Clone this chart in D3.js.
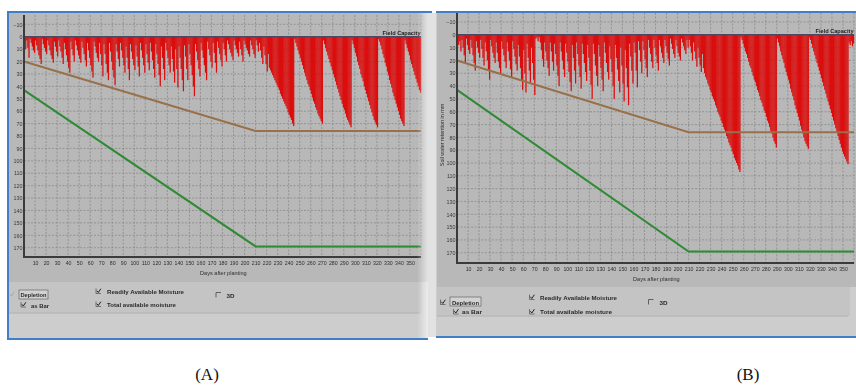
<!DOCTYPE html>
<html>
<head>
<meta charset="utf-8">
<script src="https://cdn.jsdelivr.net/npm/d3@7"></script>
<style>
  html, body { margin: 0; padding: 0; background: #fff; }
  svg { display: block; font-family: "Liberation Sans", Arial, sans-serif; }
</style>
</head>
<body>
<svg id="chart" width="856" height="387"></svg>
<script>
// daily depletion (mm below field capacity), day 1..360
const depletionA = [
  4, 10, 3, 9, 17, 2, 5, 8, 11, 13,
  3, 7, 11, 15, 18, 22, 2, 6, 9, 12,
  14, 3, 7, 11, 15, 18, 21, 4, 8, 12,
  16, 3, 8, 12, 17, 22, 5, 10, 15, 20,
  25, 29, 4, 10, 15, 20, 3, 7, 11, 15,
  18, 21, 4, 9, 14, 19, 24, 5, 11, 17,
  23, 28, 33, 4, 8, 13, 17, 20, 5, 14,
  23, 32, 6, 14, 22, 29, 35, 5, 12, 20,
  27, 33, 39, 6, 12, 18, 24, 5, 11, 17,
  23, 29, 8, 17, 26, 35, 6, 12, 18, 23,
  27, 7, 16, 24, 32, 5, 11, 17, 23, 29,
  6, 14, 21, 27, 5, 12, 19, 26, 33, 6,
  14, 22, 31, 40, 8, 17, 26, 35, 5, 11,
  17, 23, 29, 8, 18, 28, 37, 10, 26, 41,
  8, 17, 26, 35, 44, 7, 16, 26, 35, 6,
  14, 23, 31, 40, 48, 6, 12, 19, 26, 32,
  5, 11, 17, 23, 29, 35, 4, 10, 15, 20,
  25, 5, 13, 21, 29, 4, 9, 14, 19, 24,
  5, 10, 15, 20, 3, 6, 10, 13, 16, 19,
  3, 7, 10, 13, 16, 4, 10, 15, 20, 3,
  6, 9, 11, 14, 16, 3, 7, 10, 14, 17,
  3, 7, 12, 5, 11, 17, 22, 8, 15, 22,
  28, 14, 25, 27, 29, 31, 33, 35, 37, 39,
  41, 43, 46, 48, 50, 52, 54, 56, 58, 61,
  63, 65, 67, 70, 72, 2, 5, 8, 11, 14,
  17, 20, 23, 26, 29, 32, 35, 38, 40, 43,
  46, 49, 52, 54, 57, 59, 62, 64, 66, 68,
  70, 3, 6, 9, 12, 15, 18, 21, 24, 27,
  30, 33, 36, 39, 42, 45, 48, 51, 54, 57,
  59, 62, 65, 67, 69, 71, 73, 3, 6, 9,
  13, 16, 20, 23, 26, 30, 33, 36, 40, 43,
  46, 49, 52, 55, 58, 61, 64, 67, 69, 71,
  73, 2, 4, 7, 10, 14, 17, 21, 24, 28,
  31, 35, 38, 41, 45, 48, 51, 54, 57, 60,
  63, 66, 68, 70, 72, 3, 6, 9, 12, 15,
  19, 22, 25, 28, 31, 34, 37, 40, 43, 45
];
const depletionB = [
  4, 8, 5, 13, 4, 10, 16, 22, 3, 8,
  12, 15, 4, 10, 16, 22, 28, 5, 10, 14,
  18, 4, 11, 18, 24, 6, 13, 20, 28, 35,
  4, 9, 14, 18, 22, 6, 14, 21, 26, 30,
  5, 11, 16, 21, 26, 6, 13, 20, 27, 33,
  5, 11, 17, 23, 28, 8, 17, 26, 35, 43,
  12, 30, 45, 7, 18, 28, 38, 10, 22, 35,
  47, 3, 2, 5, 2, 6, 12, 19, 25, 6,
  13, 20, 26, 32, 6, 13, 21, 28, 7, 15,
  24, 32, 40, 6, 13, 20, 27, 33, 7, 14,
  21, 29, 37, 44, 8, 18, 28, 38, 6, 15,
  24, 33, 42, 7, 15, 22, 29, 36, 8, 18,
  28, 39, 50, 7, 15, 24, 32, 40, 8, 17,
  26, 35, 44, 6, 14, 22, 29, 35, 9, 19,
  29, 40, 50, 8, 18, 27, 36, 45, 10, 24,
  38, 52, 12, 26, 41, 55, 7, 17, 28, 38,
  6, 14, 28, 41, 5, 12, 21, 30, 5, 12,
  19, 26, 33, 4, 10, 15, 21, 26, 4, 10,
  16, 22, 28, 4, 9, 14, 18, 22, 4, 9,
  14, 19, 24, 3, 7, 11, 15, 18, 4, 9,
  14, 17, 20, 3, 6, 9, 12, 15, 4, 10,
  4, 9, 14, 20, 6, 13, 19, 25, 10, 18,
  24, 29, 15, 26, 30, 33, 35, 38, 40, 43,
  45, 48, 50, 52, 55, 57, 60, 62, 64, 67,
  69, 72, 74, 76, 79, 81, 84, 86, 88, 91,
  93, 96, 98, 100, 102, 105, 107, 2, 4, 7,
  10, 13, 15, 18, 21, 24, 26, 29, 32, 35,
  37, 40, 43, 45, 48, 51, 53, 56, 59, 61,
  64, 67, 69, 72, 75, 77, 80, 83, 85, 88,
  3, 6, 9, 13, 16, 19, 22, 26, 29, 32,
  35, 38, 42, 45, 48, 51, 55, 58, 61, 64,
  67, 71, 74, 77, 80, 83, 85, 87, 89, 2,
  4, 7, 10, 13, 16, 19, 22, 25, 28, 31,
  34, 37, 40, 43, 46, 49, 52, 55, 58, 61,
  64, 67, 70, 73, 76, 79, 82, 85, 88, 91,
  93, 95, 97, 99, 101, 6, 8, 5, 9, 7
];

// readily / total available moisture (mm), breakpoints by day
const stageDays = [0, 210, 360];
const ramValues = [20, 76, 76];
const tamValues = [43, 169, 169];

const yTickValues = [-10, 0, 10, 20, 30, 40, 50, 60, 70, 80, 90, 100, 110, 120, 130, 140, 150, 160, 170];
const xTickValues = [10, 20, 30, 40, 50, 60, 70, 80, 90, 100, 110, 120, 130, 140, 150, 160, 170, 180,
  190, 200, 210, 220, 230, 240, 250, 260, 270, 280, 290, 300, 310, 320, 330, 340, 350];
const xGridValues = xTickValues.concat([360]);

const svg = d3.select('#chart');
const defs = svg.append('defs');
defs.append('filter').attr('id', 'soft')
  .append('feGaussianBlur').attr('stdDeviation', 0.35);
const fade = defs.append('linearGradient').attr('id', 'fade');
fade.append('stop').attr('offset', '0%').attr('stop-color', '#fff').attr('stop-opacity', 0);
fade.append('stop').attr('offset', '100%').attr('stop-color', '#fff').attr('stop-opacity', 0.6);

const panels = [
  {
    data: depletionA,
    frame: { x0: 7, x1: 428, y0: 11, y1: 340 }, leftBorder: true,
    bg: { x0: 9, x1: 428, y0: 13, y1: 282 }, ctrlSplit: 313,
    plot: { x0: 24, x1: 421, y0: 15, y1: 257 }, yDomain: [-17.5, 177.5],
    yLabelX: 22.5, xLabelY: 265.5, days: [200, 274.5], fcY: 34.5, yTitle: null,
    shadowX: 417,
    ctl: {
      dep: { box: [10, 292], checked: false, faint: true, rect: [19, 290, 29, 9], text: [20.5, 297, 26] },
      bar: { box: [21, 302], checked: true, text: [31, 307.5, 18] },
      ram: { box: [96, 288.5], checked: true, text: [107, 293.5, 77] },
      tam: { box: [96, 301.5], checked: true, text: [107, 306.5, 69] },
      d3: { box: [216, 292.5], checked: false, text: [226.5, 297.5, 8] }
    },
    caption: [207, 380, '(A)']
  },
  {
    data: depletionB,
    frame: { x0: 436, x1: 856, y0: 11, y1: 338 }, leftBorder: false,
    bg: { x0: 437, x1: 856, y0: 13, y1: 287 }, ctrlSplit: 316,
    plot: { x0: 457, x1: 854, y0: 13, y1: 263 }, yDomain: [-17, 178],
    yLabelX: 455.5, xLabelY: 271.5, days: [633, 280.5], fcY: 32.5,
    yTitle: [443.5, 135], shadowX: null,
    ctl: {
      dep: { box: [440.5, 299.5], checked: true, rect: [450, 297, 31, 9], text: [452, 304.5, 27] },
      bar: { box: [453.5, 309], checked: true, text: [462, 314, 20] },
      ram: { box: [529.5, 294.5], checked: true, text: [540, 299.5, 77] },
      tam: { box: [529.5, 309], checked: true, text: [540, 314, 72] },
      d3: { box: [648.5, 299.5], checked: false, text: [659.5, 304.5, 8] }
    },
    caption: [748, 380, '(B)']
  }
];

// light strip between the two screenshots
svg.append('rect').attr('x', 428).attr('y', 13).attr('width', 8).attr('height', 324).attr('fill', '#e2e2e2');

panels.forEach(p => drawPanel(p));

function drawPanel(p) {
  const g = svg.append('g').attr('filter', 'url(#soft)');
  const f = p.frame;

  // window backgrounds
  g.append('rect').attr('x', f.x0).attr('y', f.y0).attr('width', f.x1 - f.x0).attr('height', f.y1 - f.y0)
    .attr('fill', '#cdcdcd');
  g.append('rect').attr('x', p.bg.x0).attr('y', p.bg.y1).attr('width', p.bg.x1 - p.bg.x0 - 6)
    .attr('height', p.ctrlSplit - p.bg.y1).attr('fill', '#c4c4c4');
  g.append('rect').attr('x', p.bg.x0).attr('y', p.bg.y0).attr('width', p.bg.x1 - p.bg.x0)
    .attr('height', p.bg.y1 - p.bg.y0).attr('fill', '#b8b8b8');

  const x = d3.scaleLinear().domain([0, 360]).range([p.plot.x0, p.plot.x1]);
  const y = d3.scaleLinear().domain(p.yDomain).range([p.plot.y0, p.plot.y1]);

  // dashed grid
  const grid = g.append('g').attr('stroke', '#8a8a8a').attr('stroke-width', 0.8).attr('stroke-dasharray', '2,1.5');
  grid.selectAll('line.gx').data(xGridValues).join('line')
    .attr('x1', d => x(d)).attr('x2', d => x(d)).attr('y1', p.plot.y0).attr('y2', p.plot.y1);
  grid.selectAll('line.gy').data(yTickValues).join('line')
    .attr('x1', p.plot.x0).attr('x2', p.plot.x1).attr('y1', d => y(d)).attr('y2', d => y(d));

  // depletion bars
  const step = x(1) - x(0);
  g.append('g').attr('fill', '#db0a0a')
    .selectAll('rect').data(p.data).join('rect')
    .attr('x', (d, i) => x(i + 0.5) - step / 2)
    .attr('width', step * 1.12)
    .attr('y', y(0))
    .attr('height', d => y(d) - y(0));

  // RAM and TAM lines
  const line = d3.line().x(d => x(d[0])).y(d => y(d[1]));
  g.append('path').datum(stageDays.map((d, i) => [d, ramValues[i]]))
    .attr('d', line).attr('fill', 'none').attr('stroke', '#987048').attr('stroke-width', 2);
  g.append('path').datum(stageDays.map((d, i) => [d, tamValues[i]]))
    .attr('d', line).attr('fill', 'none').attr('stroke', '#2f8a35').attr('stroke-width', 2);

  // field capacity line
  g.append('line').attr('x1', p.plot.x0).attr('x2', p.plot.x1).attr('y1', y(0)).attr('y2', y(0))
    .attr('stroke', '#4c4866').attr('stroke-width', 1.6);
  g.append('text').attr('x', p.plot.x1 - 0.5).attr('y', p.fcY).attr('text-anchor', 'end')
    .attr('font-size', 5.6).attr('font-weight', 'bold').attr('fill', '#222').text('Field Capacity');

  // axes
  const yAxis = d3.axisLeft(y).tickValues(yTickValues).tickSize(0).tickPadding(1.5);
  g.append('g').attr('transform', `translate(${p.plot.x0},0)`).call(yAxis)
    .call(a => a.select('.domain').remove())
    .call(a => a.selectAll('text').attr('font-size', 5.4).attr('fill', '#3a3a3a').attr('font-family', null));
  const xAxis = d3.axisBottom(x).tickValues(xTickValues).tickSize(0).tickPadding(4);
  g.append('g').attr('transform', `translate(0,${p.plot.y1})`).call(xAxis)
    .call(a => a.select('.domain').remove())
    .call(a => a.selectAll('text').attr('font-size', 5.2).attr('fill', '#2e2e2e').attr('font-family', null));
  g.append('path')
    .attr('d', `M${p.plot.x0},${p.plot.y0}V${p.plot.y1}H${p.plot.x1}`)
    .attr('fill', 'none').attr('stroke', '#3a3a3a').attr('stroke-width', 2);

  g.append('text').attr('x', p.days[0]).attr('y', p.days[1]).attr('font-size', 5.6).attr('fill', '#2e2e2e')
    .text('Days after planting');
  if (p.yTitle) {
    g.append('text').attr('transform', `translate(${p.yTitle[0]},${p.yTitle[1]}) rotate(-90)`)
      .attr('text-anchor', 'middle').attr('font-size', 5.4).attr('fill', '#2e2e2e')
      .text('Soil water retention in mm');
  }

  // control strip
  g.append('line').attr('x1', p.bg.x0).attr('x2', p.bg.x1 - 8).attr('y1', p.ctrlSplit).attr('y2', p.ctrlSplit)
    .attr('stroke', '#b8b8b8').attr('stroke-width', 1.5);
  const c = p.ctl;
  const labels = { dep: 'Depletion', bar: 'as Bar', ram: 'Readily Available Moisture', tam: 'Total available moisture', d3: '3D' };
  Object.keys(c).forEach(k => {
    const o = c[k];
    const bx = o.box[0], by = o.box[1];
    if (o.faint) {
      g.append('path').attr('d', `M${bx},${by + 2.5}l1.4,1.6l2.6,-4`).attr('fill', 'none')
        .attr('stroke', '#a0a0a0').attr('stroke-width', 0.8);
    } else if (o.checked) {
      g.append('path').attr('d', `M${bx},${by}V${by + 5}H${bx + 5}`).attr('fill', 'none')
        .attr('stroke', '#5a5a5a').attr('stroke-width', 0.8);
      g.append('path').attr('d', `M${bx + 0.8},${by + 2.2}l1.5,1.8l2.6,-3.8`).attr('fill', 'none')
        .attr('stroke', '#222').attr('stroke-width', 1);
    } else {
      g.append('path').attr('d', `M${bx},${by + 5}V${by}H${bx + 5}`).attr('fill', 'none')
        .attr('stroke', '#555').attr('stroke-width', 0.9);
    }
    if (o.rect) {
      g.append('rect').attr('x', o.rect[0]).attr('y', o.rect[1]).attr('width', o.rect[2]).attr('height', o.rect[3])
        .attr('fill', '#d2d2d2').attr('stroke', '#555').attr('stroke-width', 0.6);
    }
    g.append('text').attr('x', o.text[0]).attr('y', o.text[1])
      .attr('textLength', o.text[2]).attr('lengthAdjust', 'spacingAndGlyphs')
      .attr('font-size', 5.6).attr('font-weight', 'bold').attr('fill', '#2a2a2a').text(labels[k]);
  });

  // soft right edge on the first screenshot
  if (p.shadowX) {
    g.append('rect').attr('x', p.shadowX).attr('y', f.y0 + 2).attr('width', f.x1 - p.shadowX)
      .attr('height', f.y1 - f.y0 - 4).attr('fill', 'url(#fade)');
  }

  // blue window border
  const border = g.append('g').attr('stroke', '#3f7fc6').attr('stroke-width', 2).attr('fill', 'none');
  border.append('line').attr('x1', f.x0).attr('x2', f.x1 + 4).attr('y1', f.y0 + 1).attr('y2', f.y0 + 1);
  border.append('line').attr('x1', f.x0).attr('x2', f.x1).attr('y1', f.y1 - 1).attr('y2', f.y1 - 1);
  if (p.leftBorder) {
    border.append('line').attr('x1', f.x0 + 1).attr('x2', f.x0 + 1).attr('y1', f.y0).attr('y2', f.y1);
  }

  svg.append('text').attr('x', p.caption[0]).attr('y', p.caption[1]).attr('text-anchor', 'middle')
    .attr('font-family', '"Liberation Serif", "Times New Roman", serif').attr('font-size', 17)
    .attr('fill', '#111').text(p.caption[2]);
}
</script>
</body>
</html>
